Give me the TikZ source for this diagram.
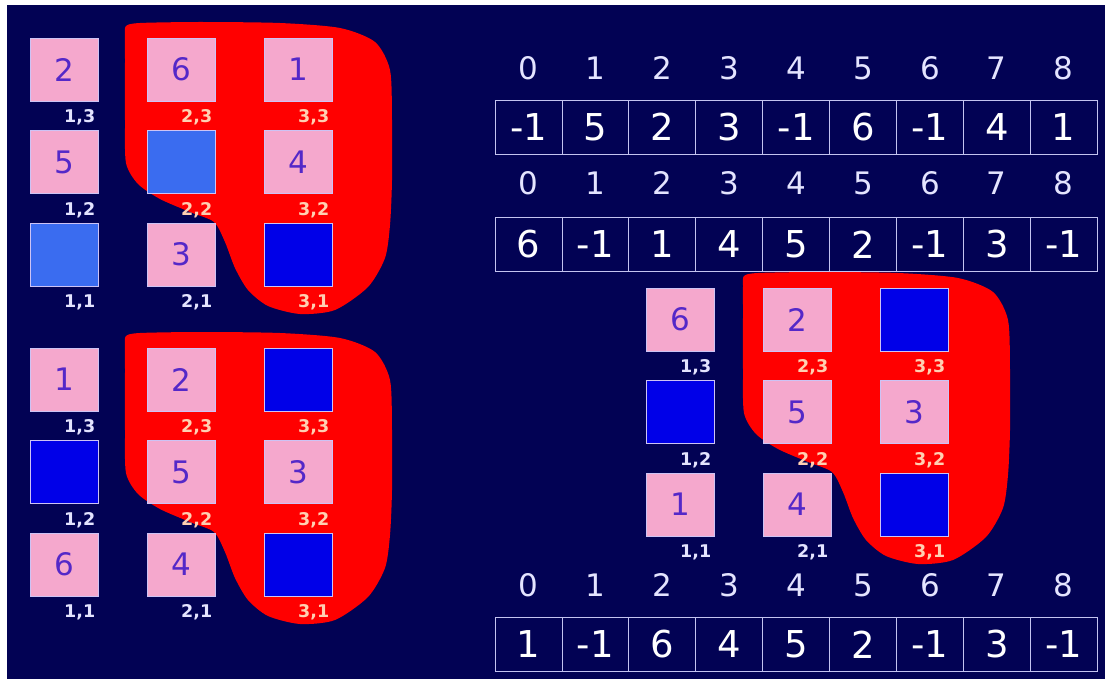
\documentclass[tikz,border=0pt]{standalone}
\usepackage{fontspec}
\setmainfont{DejaVu Sans}
\usetikzlibrary{positioning}
\definecolor{navy}{RGB}{2,2,84}
\definecolor{blobred}{RGB}{255,0,0}
\definecolor{sqpink}{RGB}{245,168,205}
\definecolor{sqlight}{RGB}{58,108,240}
\definecolor{sqdark}{RGB}{0,0,232}
\definecolor{numviolet}{RGB}{84,40,200}
\definecolor{edgelav}{RGB}{205,195,245}
\definecolor{lbllav}{RGB}{228,228,255}
\definecolor{lblpeach}{RGB}{255,208,178}
\definecolor{arrline}{RGB}{195,195,240}

\begin{document}
\begin{tikzpicture}[x=1pt, y=-1pt,
    cell/.style={draw=edgelav, line width=0.8pt, minimum width=68pt, minimum height=63pt,
      inner sep=0pt, text=numviolet, font=\fontsize{31}{31}\selectfont},
    coord/.style={inner sep=0pt, font=\fontsize{17.5}{17.5}\selectfont\bfseries},
    idx/.style={text=lbllav, inner sep=0pt, font=\fontsize{31}{31}\selectfont},
    slot/.style={draw=arrline, line width=0.9pt, minimum width=66.9pt, minimum height=54pt,
      inner sep=0pt, text=white, font=\fontsize{37}{37}\selectfont},
    blob/.style={fill=blobred, draw=none}]
        % Background
        \fill[white] (0,0) rectangle (1105,679);
        \fill[navy] (7,5) rectangle (1105,679);

        % Red regions
        \foreach \dx/\dy in {0/0, 0/310, 618/250} {
          \fill[blob, shift={(\dx,\dy)}] plot[smooth cycle, tension=0.45] coordinates {
            (126,26) (140,23) (200,22) (280,23) (340,28) (375,42) (390,70) (392,120) (392,180)
            (390,225) (385,258) (368,287) (335,310) (300,314) (268,306) (248,290)
            (235,268) (225,242) (214,222) (190,212) (160,199) (138,184) (126,163)
            (125,120) (125,60) (125,36)};
        }

        % Grid A
        \foreach \c/\r/\v/\f/\t in {1/3/2/sqpink/lbllav, 2/3/6/sqpink/lblpeach, 3/3/1/sqpink/lblpeach,
            1/2/5/sqpink/lbllav, 2/2/{}/sqlight/lblpeach, 3/2/4/sqpink/lblpeach,
            1/1/{}/sqlight/lbllav, 2/1/3/sqpink/lbllav, 3/1/{}/sqdark/lblpeach} {
          \node[cell, fill=\f] (ga-\c-\r) at ({64+117*(\c-1)}, {69.5+92.5*(3-\r)}) {\v};
          \node[coord, text=\t, below left=8pt and 3pt of ga-\c-\r.south east] (ga-\c-\r-l) {\c,\r};
        }

        % Grid B
        \foreach \c/\r/\v/\f/\t in {1/3/1/sqpink/lbllav, 2/3/2/sqpink/lblpeach, 3/3/{}/sqdark/lblpeach,
            1/2/{}/sqdark/lbllav, 2/2/5/sqpink/lblpeach, 3/2/3/sqpink/lblpeach,
            1/1/6/sqpink/lbllav, 2/1/4/sqpink/lbllav, 3/1/{}/sqdark/lblpeach} {
          \node[cell, fill=\f] (gb-\c-\r) at ({64+117*(\c-1)}, {379.5+92.5*(3-\r)}) {\v};
          \node[coord, text=\t, below left=8pt and 3pt of gb-\c-\r.south east] (gb-\c-\r-l) {\c,\r};
        }

        % Grid C
        \foreach \c/\r/\v/\f/\t in {1/3/6/sqpink/lbllav, 2/3/2/sqpink/lblpeach, 3/3/{}/sqdark/lblpeach,
            1/2/{}/sqdark/lbllav, 2/2/5/sqpink/lblpeach, 3/2/3/sqpink/lblpeach,
            1/1/1/sqpink/lbllav, 2/1/4/sqpink/lbllav, 3/1/{}/sqdark/lblpeach} {
          \node[cell, fill=\f] (gc-\c-\r) at ({680+117*(\c-1)}, {319.5+92.5*(3-\r)}) {\v};
          \node[coord, text=\t, below left=8pt and 3pt of gc-\c-\r.south east] (gc-\c-\r-l) {\c,\r};
        }

        % Arrays with indices
        \foreach \a/\yi/\ya/\vals in {p/68/127/{-1,5,2,3,-1,6,-1,4,1},
            q/183/244.5/{6,-1,1,4,5,2,-1,3,-1},
            s/585/644.5/{1,-1,6,4,5,2,-1,3,-1}} {
          \foreach \v [count=\i from 0] in \vals {
            \node[idx] (\a i-\i) at ({528.5+66.9*\i}, \yi) {\i};
            \node[slot] (\a-\i) at ({528.5+66.9*\i}, \ya) {\v};
          }
        }
\end{tikzpicture}
\end{document}
